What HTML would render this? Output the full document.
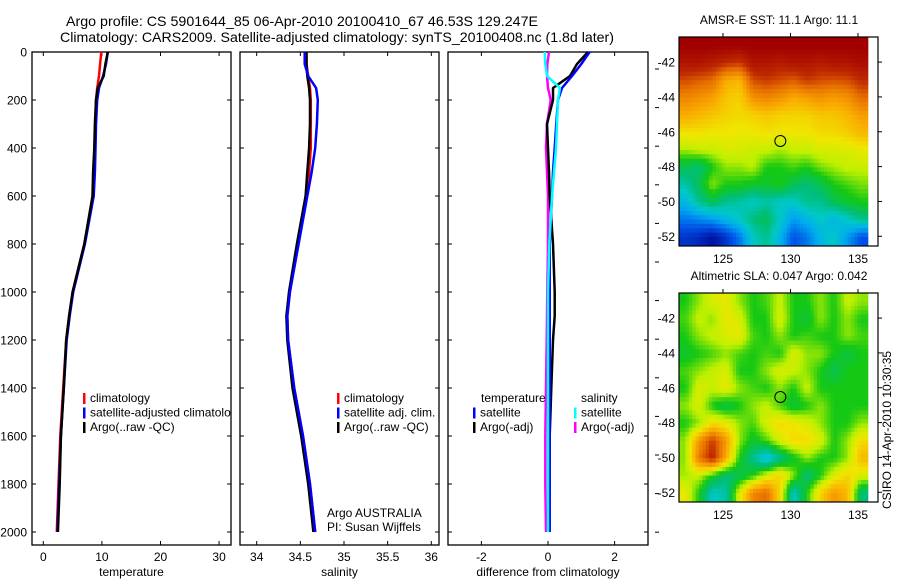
<!DOCTYPE html>
<html><head><meta charset="utf-8"><style>
html,body{margin:0;padding:0;background:#fff;}
svg{display:block;font-family:"Liberation Sans",Arial,sans-serif;}
</style></head><body>
<svg id="fig" width="900" height="580" viewBox="0 0 900 580">
<text x="66" y="26" font-size="14" textLength="472" lengthAdjust="spacingAndGlyphs">Argo profile: CS 5901644_85 06-Apr-2010 20100410_67 46.53S 129.247E</text>
<text x="60" y="42" font-size="14" textLength="554" lengthAdjust="spacingAndGlyphs">Climatology: CARS2009. Satellite-adjusted climatology: synTS_20100408.nc (1.8d later)</text>
<defs><clipPath id="clip-temp"><rect x="32" y="52" width="199" height="493"/></clipPath></defs>
<g id="g"></g>
</svg>
<script>
// ---- profile data ----
const depths = [0,50,100,150,200,300,400,500,600,800,1000,1100,1200,1400,1600,1800,2000];
const tempClim = [9.9,9.7,9.5,9.2,9.0,8.9,8.8,8.7,8.5,7.0,5.0,4.4,3.9,3.4,2.9,2.6,2.3];
const tempSat  = [11.0,10.7,10.2,9.5,9.2,9.0,8.9,8.8,8.6,7.1,5.1,4.5,4.0,3.5,3.0,2.7,2.4];
const tempArgo = [11.0,10.6,10.3,9.3,9.0,8.8,8.7,8.5,8.4,7.0,5.0,4.4,3.9,3.5,3.0,2.8,2.5];
const salClim = [34.57,34.57,34.59,34.61,34.62,34.62,34.62,34.60,34.57,34.47,34.38,34.35,34.36,34.43,34.53,34.61,34.67];
const salSat  = [34.55,34.55,34.59,34.68,34.70,34.69,34.67,34.63,34.58,34.48,34.38,34.35,34.36,34.43,34.53,34.61,34.67];
const salArgo = [34.57,34.57,34.58,34.60,34.61,34.61,34.60,34.58,34.56,34.46,34.37,34.34,34.35,34.41,34.51,34.59,34.65];
const dTempSat  = [1.25,1.0,0.72,0.42,0.3,0.25,0.2,0.15,0.12,0.05,0.05,0.05,0.05,0.05,0.05,0.05,0.05];
const dTempArgo = [1.2,0.87,0.66,0.15,0.15,-0.03,0,0.03,0.05,0.15,0.2,0.2,0.15,0.1,0.05,0.03,0.03];
const dSalSat   = [-0.1,-0.08,-0.03,0.36,0.3,0.27,0.24,0.18,0.12,0.04,0,0,0,0,0,0,0];
const dSalArgo  = [0.03,-0.02,-0.03,0,0.08,-0.03,-0.06,-0.03,0,0,-0.02,-0.03,-0.04,-0.06,-0.08,-0.08,-0.06];
const depthTicks = [0,200,400,600,800,1000,1200,1400,1600,1800,2000];
const tempTicks = [0,10,20,30];
const salTicks = [34,34.5,35,35.5,36];
const salTickLabels = ["34","34.5","35","35.5","36"];
const diffTicks = [-2,0,2];
// ---- map data (rows north->south, 1 deg; cols west->east, 1 deg from 121.75) ----
const sstGrid = [
[1,1,1,1,1,1,1,1,1,1,1,1,1,1],
[0.95,0.95,0.93,0.9,0.88,0.95,0.95,0.93,0.95,0.95,0.93,0.95,0.95,0.97],
[0.86,0.84,0.82,0.72,0.7,0.86,0.88,0.86,0.84,0.88,0.86,0.85,0.86,0.9],
[0.78,0.76,0.74,0.68,0.66,0.76,0.78,0.76,0.72,0.74,0.76,0.74,0.76,0.82],
[0.72,0.7,0.68,0.66,0.65,0.66,0.68,0.66,0.66,0.66,0.68,0.68,0.7,0.74],
[0.64,0.64,0.63,0.63,0.62,0.63,0.64,0.63,0.63,0.63,0.65,0.65,0.67,0.7],
[0.56,0.58,0.58,0.6,0.6,0.58,0.58,0.56,0.58,0.58,0.6,0.6,0.6,0.62],
[0.45,0.42,0.5,0.55,0.55,0.57,0.5,0.5,0.52,0.5,0.54,0.56,0.58,0.58],
[0.38,0.45,0.55,0.5,0.5,0.48,0.48,0.5,0.45,0.42,0.45,0.5,0.52,0.54],
[0.3,0.4,0.45,0.4,0.38,0.35,0.38,0.35,0.35,0.4,0.4,0.45,0.48,0.5],
[0.2,0.22,0.25,0.3,0.35,0.42,0.45,0.35,0.25,0.3,0.35,0.3,0.35,0.4],
[0.1,0.08,0.03,0.1,0.2,0.35,0.4,0.3,0.15,0.2,0.3,0.35,0.25,0.15]];
const slaGrid = [
[0.5,0.55,0.6,0.62,0.55,0.5,0.52,0.58,0.5,0.5,0.55,0.5,0.58,0.55],
[0.52,0.58,0.55,0.62,0.6,0.5,0.5,0.6,0.5,0.47,0.55,0.5,0.55,0.5],
[0.5,0.55,0.58,0.6,0.62,0.52,0.5,0.55,0.5,0.52,0.5,0.5,0.55,0.52],
[0.48,0.5,0.52,0.55,0.52,0.5,0.52,0.5,0.6,0.55,0.55,0.5,0.46,0.5],
[0.52,0.55,0.58,0.6,0.5,0.5,0.55,0.6,0.58,0.55,0.5,0.45,0.5,0.5],
[0.5,0.6,0.58,0.62,0.55,0.52,0.5,0.55,0.5,0.58,0.5,0.5,0.5,0.5],
[0.55,0.6,0.5,0.45,0.5,0.55,0.58,0.52,0.47,0.5,0.55,0.5,0.5,0.5],
[0.5,0.55,0.64,0.62,0.55,0.52,0.6,0.65,0.63,0.6,0.55,0.5,0.5,0.55],
[0.55,0.75,0.88,0.75,0.55,0.48,0.52,0.6,0.65,0.65,0.6,0.5,0.55,0.65],
[0.55,0.8,0.92,0.72,0.5,0.4,0.3,0.4,0.48,0.55,0.5,0.5,0.55,0.7],
[0.56,0.58,0.5,0.42,0.45,0.5,0.6,0.66,0.55,0.42,0.5,0.6,0.66,0.6],
[0.62,0.5,0.35,0.38,0.6,0.78,0.82,0.65,0.35,0.5,0.66,0.75,0.7,0.42]];
const lonTicks = [125,130,135];
const latTicks = [-42,-44,-46,-48,-50,-52];
const argoLon = 129.247, argoLat = -46.53;

const NS = "http://www.w3.org/2000/svg";
const G = document.getElementById('g');
function mk(tag, attrs, parent){ const e=document.createElementNS(NS,tag); for(const k in attrs) e.setAttribute(k,attrs[k]); (parent||G).appendChild(e); return e; }
function txt(x,y,s,anchor,size,parent){ const t=mk('text',{x:x,y:y,'font-size':size||12,'text-anchor':anchor||'start'},parent); t.textContent=s; return t; }

const yTop=52, yBot=545, yScale=0.24;
const yD = d => yTop + d*yScale;

function panel(name, x0, x1, xFn, ticks, labels, xlabel, showY){
  const g = mk('g',{});
  
  
  const r = mk('rect',{x:x0,y:yTop,width:x1-x0,height:yBot-yTop,fill:'none',stroke:'#000','stroke-width':1.3},g);
  
  
  depthTicks.forEach(d=>{
    mk('line',{x1:x0,x2:x0+4,y1:yD(d),y2:yD(d),stroke:'#000'},g);
    mk('line',{x1:x1-4,x2:x1,y1:yD(d),y2:yD(d),stroke:'#000'},g);
    if(showY){ const t=txt(27,yD(d)+4.5,String(d),'end',12,g);
      
       }
  });
  ticks.forEach((v,i)=>{
    const x=xFn(v);
    mk('line',{x1:x,x2:x,y1:yTop,y2:yTop+4,stroke:'#000'},g);
    mk('line',{x1:x,x2:x,y1:yBot-4,y2:yBot,stroke:'#000'},g);
    const t=txt(x,561,labels[i],'middle',12,g);
    
    
  });
  const xl=txt((x0+x1)/2,576,xlabel,'middle',12,g);
  
  
  return g;
}
function line(g, vals, xFn, color, name){
  const pts = vals.map((v,i)=>xFn(v).toFixed(1)+','+yD(depths[i]).toFixed(1)).join(' ');
  const p = mk('polyline',{points:pts,fill:'none',stroke:color,'stroke-width':2.5,'stroke-linejoin':'round'},g);
  
  
}
function legend(g, x, y, items){
  items.forEach((it,i)=>{
    const yy=y+i*14.5;
    mk('rect',{x:x,y:yy-9,width:2.5,height:11,fill:it[1]},g);
    const t=txt(x+7,yy,it[0],'start',12,g);
    
    
  });
}

// temperature
const xT = v => 43.3 + v*5.86;
const gT = panel('temperature',32,231,xT,tempTicks,tempTicks.map(String),'temperature',true);
line(gT,tempClim,xT,'#f00','temp-climatology-line');
line(gT,tempSat,xT,'#00f','temp-satellite-line');
line(gT,tempArgo,xT,'#000','temp-argo-line');
const lgT = mk('g',{'clip-path':'url(#clip-temp)'},gT);


legend(lgT,83,402,[['climatology','#f00'],['satellite-adjusted climatology','#00f'],['Argo(..raw -QC)','#000']]);

// salinity
const xS = v => 256.7 + (v-34)*87.3;
const gS = panel('salinity',240,439,xS,salTicks,salTickLabels,'salinity',false);
line(gS,salClim,xS,'#f00','sal-climatology-line');
line(gS,salArgo,xS,'#000','sal-argo-line');
line(gS,salSat,xS,'#00f','sal-satellite-line');
legend(gS,337,402,[['climatology','#f00'],['satellite adj. clim.','#00f'],['Argo(..raw -QC)','#000']]);
const a1=txt(327,517,'Argo AUSTRALIA','start',12,gS);


const a2=txt(327,531,'PI: Susan Wijffels','start',12,gS);



// difference
const xDf = v => 548 + v*33.3;
const gD = panel('difference',448,648,xDf,diffTicks,diffTicks.map(String),'difference from climatology',false);
line(gD,dSalArgo,xDf,'#f0f','diff-sal-argo-line');
line(gD,dTempArgo,xDf,'#000','diff-temp-argo-line');
line(gD,dTempSat,xDf,'#00f','diff-temp-satellite-line');
line(gD,dSalSat,xDf,'#0ff','diff-sal-satellite-line');
const lt=txt(481,402,'temperature','start',12,gD);


const ls=txt(581,402,'salinity','start',12,gD);


legend(gD,473,416.5,[['satellite','#00f'],['Argo(-adj)','#000']]);
legend(gD,574,416.5,[['satellite','#0ff'],['Argo(-adj)','#f0f']]);
for(let y=69;y<=546;y+=38.6){ mk('line',{x1:655,x2:659,y1:y,y2:y,stroke:'#000'}); }

// maps
const cmapStops = [[0,0,0,140],[0.15,0,80,230],[0.27,0,170,240],[0.35,0,200,200],[0.42,0,190,120],[0.5,20,200,20],[0.57,190,240,0],[0.63,240,230,0],[0.72,250,170,0],[0.82,230,110,0],[0.9,190,40,0],[1,160,0,0]];
function cmap(v){
  v=Math.max(0,Math.min(1,v));
  for(let i=1;i<cmapStops.length;i++){
    const a=cmapStops[i-1], b=cmapStops[i];
    if(v<=b[0]){ const t=(v-a[0])/(b[0]-a[0]);
      return 'rgb('+[1,2,3].map(k=>Math.round(a[k]+(b[k]-a[k])*t)).join(',')+')'; }
  }
  return 'rgb(160,0,0)';
}
function sample(grid, fr, fc){
  const R=grid.length, C=grid[0].length;
  fr=Math.max(0,Math.min(R-1,fr)); fc=Math.max(0,Math.min(C-1,fc));
  const r0=Math.floor(fr), c0=Math.floor(fc), r1=Math.min(R-1,r0+1), c1=Math.min(C-1,c0+1);
  const tr=fr-r0, tc=fc-c0;
  return (grid[r0][c0]*(1-tc)+grid[r0][c1]*tc)*(1-tr)+(grid[r1][c0]*(1-tc)+grid[r1][c1]*tc)*tr;
}
function map(name, grid, y0, title){
  const x0=679, x1=878, h=209;
  const lonL=121.74, pxLon=13.5, latT=-40.56, pxLat=17.42;
  const xL = lon => x0 + (lon-lonL)*pxLon;
  const yL = lat => y0 + (latT-lat)*pxLat;
  const g=mk('g',{});
  
  
  const cp=mk('clipPath',{id:'clip-'+name},g); mk('rect',{x:x0,y:y0,width:x1-x0,height:h},cp);
  const cg=mk('g',{'clip-path':'url(#clip-'+name+')'},g);
  const sub=4;
  for(let r=0;r<grid.length*sub;r++){
    for(let c=0;c<grid[0].length*sub;c++){
      const v=sample(grid,(r+0.5)/sub-0.5,(c+0.5)/sub-0.5);
      const cell=mk('rect',{x:(xL(lonL)+c*pxLon/sub-0.3).toFixed(2),y:(yL(latT)+r*pxLat/sub-0.3).toFixed(2),width:(pxLon/sub+0.6).toFixed(2),height:(pxLat/sub+0.6).toFixed(2),fill:cmap(v)},cg);
      
      
    }
  }
  mk('rect',{x:x0,y:y0,width:x1-x0,height:h,fill:'none',stroke:'#000','stroke-width':1.2},g);
  lonTicks.forEach(l=>{
    const x=xL(l);
    mk('line',{x1:x,x2:x,y1:y0-4,y2:y0,stroke:'#000'},g);
    const t=txt(x,y0+h+17,String(l),'middle',12,g);
    
    
  });
  latTicks.forEach(l=>{
    const y=yL(l);
    mk('line',{x1:x1,x2:x1+4,y1:y,y2:y,stroke:'#000'},g);
    const t=txt(675,y+4.5,String(l),'end',12,g);
    
    
  });
  const c=mk('circle',{cx:xL(argoLon),cy:yL(argoLat),r:5.5,fill:'none',stroke:'#000','stroke-width':1},g);
  
  
  const t=txt(779,y0-13,title,'middle',12,g);
  
  
}
map('sst',sstGrid,37,'AMSR-E SST: 11.1 Argo: 11.1');
map('sla',slaGrid,293,'Altimetric SLA: 0.047 Argo: 0.042');
const cs=txt(0,0,'CSIRO 14-Apr-2010 10:30:35','middle',12);
cs.setAttribute('transform','translate(891,430) rotate(-90)');


</script>
</body></html>
